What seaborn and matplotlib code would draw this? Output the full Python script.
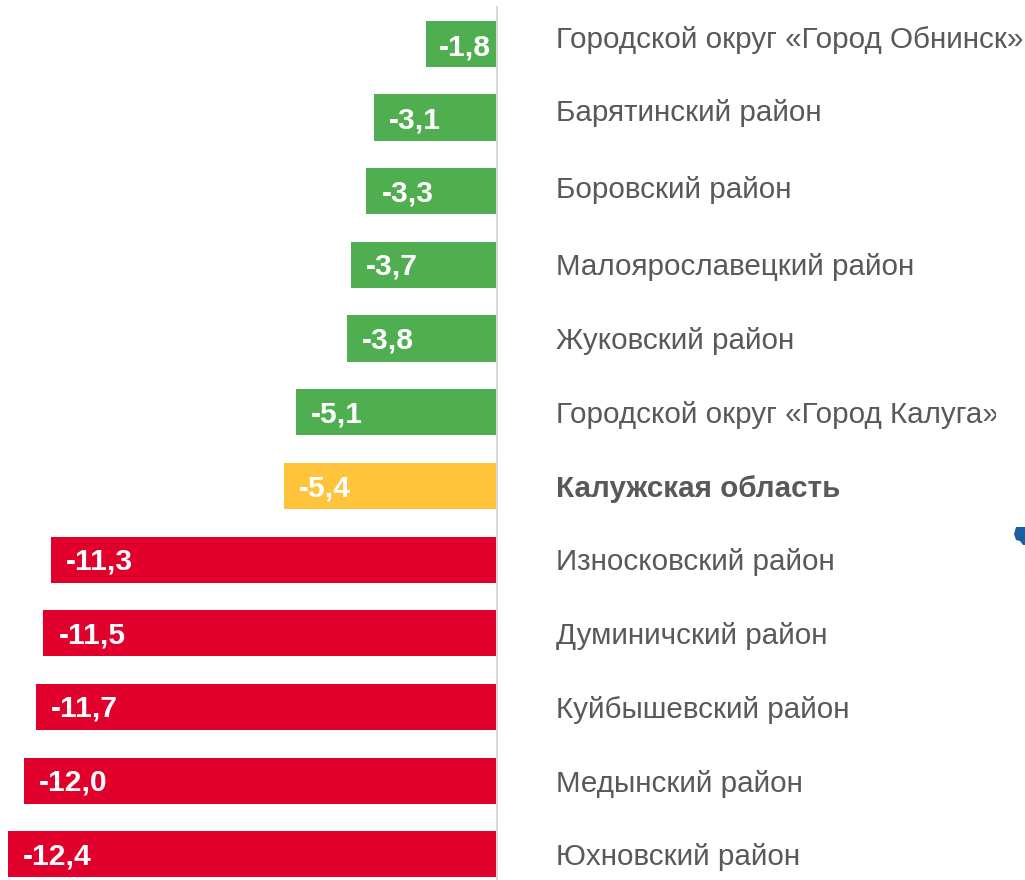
import numpy as np
import pandas as pd
import matplotlib
matplotlib.use('Agg')
import matplotlib.pyplot as plt
from matplotlib.patches import Polygon
from matplotlib.transforms import Bbox, IdentityTransform, ScaledTranslation, TransformedBbox
import seaborn as sns

regions = ['Городской округ «Город Обнинск»', 'Барятинский район', 'Боровский район',
           'Малоярославецкий район', 'Жуковский район', 'Городской округ «Город Калуга»',
           'Калужская область', 'Износковский район', 'Думиничский район',
           'Куйбышевский район', 'Медынский район', 'Юхновский район']
values = [-1.8, -3.1, -3.3, -3.7, -3.8, -5.1, -5.4, -11.3, -11.5, -11.7, -12.0, -12.4]
value_labels = ['-1,8', '-3,1', '-3,3', '-3,7', '-3,8', '-5,1', '-5,4',
                '-11,3', '-11,5', '-11,7', '-12,0', '-12,4']
groups = ['good'] * 6 + ['region'] + ['bad'] * 5

group_colors = {'good': '#4FAF50', 'region': '#FFC33C', 'bad': '#E0002B'}
label_color = '#595959'
# the labels in the original are not quite centred on the bars (pixels, up is plus)
label_nudge = [7, 8, 4, 1, 1, 0, 0, 1, 0, 0, 0, 0]
value_nudge = [-4, -3, -2, -2, -2, -2, -3, -2, -2, -2, -2, -2]
# -1,8 starts a bit closer to the bar end than the others
value_pad = [13, 15, 15, 15, 15, 15, 15, 15, 15, 15, 15, 15]

W, H = 1025, 880
plt.rcParams['font.family'] = ['Liberation Sans', 'DejaVu Sans']

df = pd.DataFrame({'region': regions, 'value': values, 'group': groups})

fig = plt.figure(figsize=(W / 100, H / 100), dpi=100, facecolor='white')
# axes runs from the left edge to the zero line at x=496
ax = fig.add_axes([0, 0, 496.5 / W, (H - 7) / H])

sns.barplot(data=df, x='value', y='region', hue='group', palette=group_colors,
            dodge=False, width=0.625, legend=False, saturation=1, ax=ax)

ax.set_xlim(-496.5 / 39.4, 0)
ax.set_ylim(11.35, -0.5)
ax.set_xlabel('')
ax.set_ylabel('')
ax.xaxis.set_visible(False)
for side in ['top', 'bottom', 'left']:
    ax.spines[side].set_visible(False)
ax.spines['right'].set_color('#D9D9D9')
ax.spines['right'].set_linewidth(1.4)

ax.yaxis.tick_right()
ax.tick_params(axis='y', length=0, pad=42.7, labelsize=21.3, labelcolor=label_color)
fig.canvas.draw()

clip = TransformedBbox(Bbox([[0, 0], [996, H]]), IdentityTransform())
for i, lab in enumerate(ax.get_yticklabels()):
    lab.set_transform(lab.get_transform() + ScaledTranslation(0, label_nudge[i] / 100, fig.dpi_scale_trans))
    if regions[i] == 'Калужская область':
        lab.set_fontweight('bold')
    if 'Калуга' in regions[i]:
        lab.set_clip_box(clip)
        lab.set_clip_on(True)

# value labels sit inside the bar, near its left end
for i, v in enumerate(values):
    ax.annotate(value_labels[i], xy=(v, i), xytext=(value_pad[i] * 0.72, value_nudge[i] * 0.72),
                textcoords='offset points', ha='left', va='center',
                color='white', fontsize=21.6, fontweight='bold')

# cut-off bit of a map at the right edge of the original slide
fig.add_artist(Polygon([[1025, H - 527], [1016, H - 527], [1014, H - 534], [1016, H - 540],
                        [1020, H - 541], [1023, H - 545], [1025, H - 545]],
                       closed=True, facecolor='#1A5F9E', edgecolor='none',
                       transform=IdentityTransform()))

fig.savefig('out.png', dpi=100)
